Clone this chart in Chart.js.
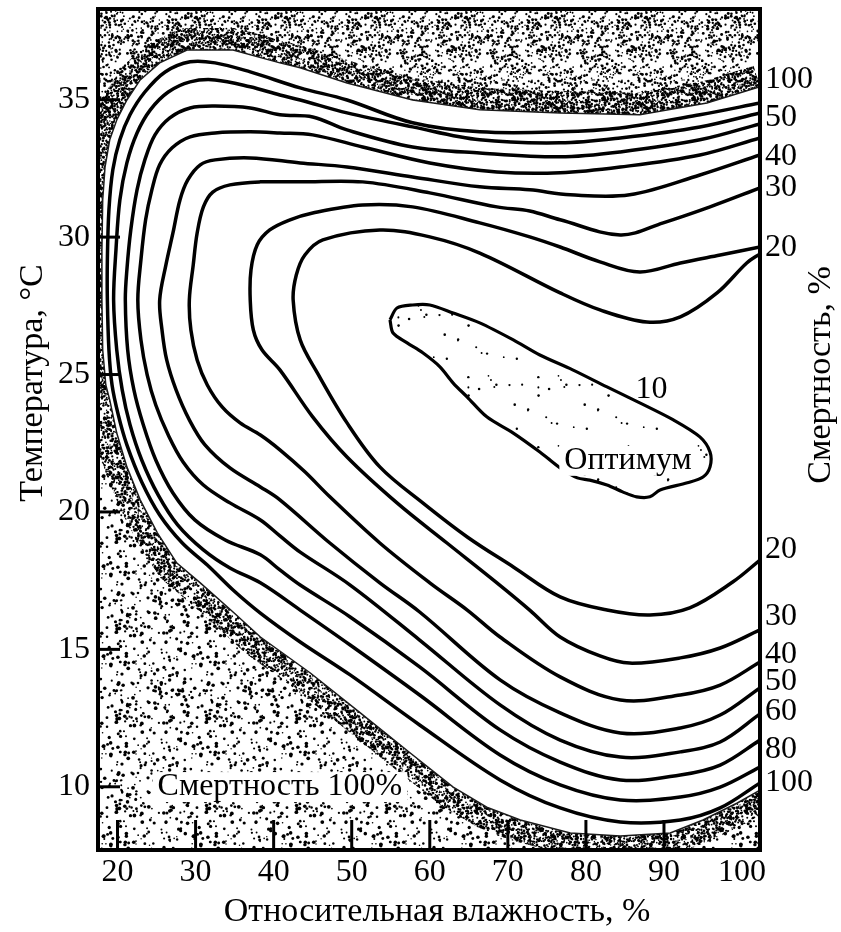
<!DOCTYPE html>
<html>
<head>
<meta charset="utf-8">
<script src="https://cdn.jsdelivr.net/npm/chart.js@4.4.1/dist/chart.umd.min.js"></script>
<style>
html,body{margin:0;padding:0;background:#fff;}
#wrap{width:841px;height:932px;position:relative;}
canvas{display:block;}
</style>
</head>
<body>
<div id="wrap"><canvas id="c" width="841" height="932" style="width:841px;height:932px"></canvas></div>
<script>
// ---------- axes ----------
const humidityMin = 17.5, humidityMax = 102.3;
const temperatureMin = 7.7, temperatureMax = 38.3;
const humidityTicks = [20, 30, 40, 50, 60, 70, 80, 90, 100];
const temperatureTicks = [10, 15, 20, 25, 30, 35];
// right-hand mortality labels (%), and the temperature at which each one sits
const mortalityLabels = ['100', '50', '40', '30', '20', '20', '30', '40', '50', '60', '80', '100'];
const mortalityLabelTemps = [35.72, 34.34, 32.92, 31.79, 29.61, 18.62, 16.18, 14.80, 13.81, 12.72, 11.34, 10.14];

// ---------- edge of the 100 % mortality zone ----------
const lethalEdgeHum = [102.3,95.5,86.9,76.7,66.4,57.8,49.4,43.4,40.8,34.8,28.9,25.4,22.9,21.2,19.9,19.0,18.4,18.1,18.0,18.0,18.1,18.5,19.0,19.9,21.2,22.9,25.1,27.6,30.6,34.8,38.3,44.7,51.1,57.5,63.0,67.3,71.6,78.0,84.4,90.8,95.0,99.4,102.3];
const lethalEdgeTemp = [35.47,34.88,34.45,34.52,34.63,34.99,35.61,36.16,36.34,36.81,36.81,36.34,35.72,34.99,34.26,33.54,32.55,31.35,29.53,27.71,25.90,24.62,24.08,22.87,21.64,20.44,19.24,18.14,17.42,16.36,15.45,14.14,12.69,11.23,9.99,9.26,8.79,8.32,8.21,8.32,8.79,9.41,9.88];

// ---------- mortality isolines, outermost (1) to innermost (8) ----------
const line1Hum = [102.3,94.6,84.4,76.7,66.4,57.8,49.4,43.4,37.0,32.5,29.3,26.1,23.5,21.6,20.3,19.4,18.9,18.7,18.7,18.9,19.3,20.1,21.2,23.1,25.4,28.3,31.5,34.8,38.3,43.4,49.8,58.7,69.0,76.7,84.4,92.1,97.2,102.3];
const line1Temp = [34.88,34.45,33.97,33.83,33.83,34.16,34.99,35.43,36.01,36.34,36.38,36.01,35.28,34.45,33.54,32.45,30.99,29.17,27.71,25.90,24.62,23.53,22.44,21.09,19.89,18.87,18.07,17.16,16.32,15.27,14.07,12.25,10.25,9.23,8.72,8.79,9.23,10.14];

const line2Hum = [102.3,94.6,84.4,76.7,66.4,57.8,49.4,43.4,40.8,37.0,32.5,29.3,26.5,24.2,22.5,21.2,20.3,19.8,19.5,19.9,20.6,21.6,23.1,25.2,27.7,31.0,34.4,38.3,43.4,49.8,58.7,69.0,76.7,84.4,92.1,97.2,102.3];
const line2Temp = [34.52,34.01,33.61,33.43,33.54,34.01,34.52,34.99,35.17,35.47,35.72,35.65,35.28,34.63,33.79,32.70,31.35,29.53,27.71,25.90,24.44,23.17,21.89,20.62,19.53,18.62,17.96,17.42,16.43,15.16,13.34,11.16,10.07,9.52,9.63,9.99,10.72];

const line3Hum = [102.3,94.6,84.4,76.7,66.4,57.8,49.4,45.0,40.8,37.0,32.5,29.3,26.7,24.8,23.5,22.5,21.7,21.2,21.0,21.3,22.1,23.3,24.9,27.1,29.9,33.8,38.3,40.8,43.4,49.8,58.7,69.0,76.7,84.4,92.1,97.2,102.3];
const line3Temp = [34.12,33.54,33.10,32.92,33.06,33.28,33.90,34.37,34.45,34.70,34.77,34.70,34.34,33.72,32.81,31.72,30.26,28.81,27.71,25.90,24.44,23.17,21.89,20.69,19.71,18.98,18.44,17.89,17.34,16.18,14.36,12.07,10.90,10.25,10.43,10.79,11.70];

const line4Hum = [102.3,94.6,84.4,76.7,68.6,60.0,51.4,45.0,40.8,37.0,32.5,29.3,27.0,25.4,24.4,23.6,23.0,22.6,23.0,23.8,24.9,26.5,28.4,31.0,34.4,38.3,40.8,43.4,49.8,58.7,69.0,76.7,84.4,92.1,97.2,102.3];
const line4Temp = [33.61,32.99,32.55,32.34,32.37,32.70,33.28,33.72,33.79,33.83,33.79,33.65,33.25,32.63,31.72,30.63,29.17,27.71,26.26,24.99,23.89,22.80,21.82,20.98,20.33,19.71,19.13,18.54,17.34,15.34,12.98,11.70,11.08,11.27,11.63,12.65];

const line5Hum = [102.3,94.6,85.6,78.0,72.8,66.4,57.8,49.4,43.4,37.0,32.5,30.6,29.0,28.0,27.1,26.2,25.4,25.7,26.3,27.5,29.2,31.2,34.4,38.3,40.8,47.2,53.6,58.7,69.0,76.7,84.4,92.1,97.2,102.3];
const line5Temp = [32.99,32.26,31.54,31.54,31.72,31.83,32.19,32.55,32.70,32.88,32.81,32.63,32.08,31.35,30.15,28.99,27.71,26.62,25.53,24.44,23.35,22.44,21.60,20.91,20.44,18.87,17.42,16.36,13.89,12.69,11.96,12.14,12.61,13.60];

const line6Hum = [102.3,95.9,89.9,84.4,76.7,72.8,68.6,60.0,51.4,43.4,38.3,34.4,32.2,31.0,30.2,29.7,29.2,29.4,30.2,31.5,33.4,35.7,38.3,40.8,44.0,47.2,53.6,60.0,64.8,69.0,76.7,84.4,92.1,97.2,102.3];
const line6Temp = [31.79,31.10,30.52,30.08,30.63,30.95,31.10,31.61,32.01,32.01,32.01,31.90,31.64,31.10,30.15,28.99,27.71,26.62,25.53,24.62,23.82,23.24,22.80,22.26,21.46,20.55,18.87,17.42,16.43,15.45,14.00,13.16,13.34,13.70,14.54];

const line7Hum = [102.3,97.2,92.1,86.9,81.8,76.7,72.8,66.4,57.8,51.4,45.0,42.1,39.5,37.9,37.1,37.0,37.4,38.5,40.8,45.0,49.4,55.8,62.2,68.6,72.8,76.7,81.8,85.6,92.1,97.2,102.3];
const line7Temp = [29.64,29.35,29.06,28.73,29.10,29.64,30.01,30.52,31.10,31.17,30.88,30.63,30.26,29.72,28.81,27.71,26.62,25.90,25.17,23.46,22.00,20.33,18.87,17.42,16.43,15.45,14.76,14.50,14.69,15.05,15.71];

const line8Hum = [102.3,100.6,96.8,92.1,87.8,81.8,76.7,66.4,60.0,53.6,46.3,44.0,42.9,42.5,43.4,45.6,49.4,53.6,59.1,64.8,70.7,76.7,82.7,88.2,93.3,98.8,102.3];
const line8Temp = [29.39,29.06,27.97,27.10,26.91,27.35,27.97,29.42,30.01,30.26,29.90,29.35,28.62,27.71,26.26,25.06,23.24,21.64,20.33,19.09,18.00,16.91,16.43,16.25,16.51,17.45,18.25];

// ---------- 10 % isoline (optimum zone, closed) ----------
const optimumHum = [54.9,55.8,57.8,60.0,63.0,66.4,70.7,74.1,78.3,82.7,86.9,91.2,94.6,95.9,95.9,95.0,93.0,89.5,88.2,86.5,84.7,82.7,80.5,78.9,76.7,74.1,70.7,67.3,64.8,63.0,61.3,59.1,57.1,55.3,54.9];
const optimumTemp = [26.99,27.42,27.53,27.53,27.24,26.88,26.26,25.71,25.17,24.55,23.97,23.35,22.73,22.18,21.64,21.27,21.06,20.80,20.55,20.55,20.73,20.98,21.16,21.24,21.60,22.18,22.87,23.46,24.18,24.69,25.28,25.79,26.15,26.51,26.99];

// ---------- text notes inside the plot ----------
const annotationTexts = ['10', 'Оптимум', 'Смертность 100%'];
const annotationHum = [88.4, 85.4, 40.8];
const annotationTemp = [24.44, 21.86, 9.99];
const annotationBoxed = [false, true, true];

// ---------- helpers ----------
const toPoints = (hs, ts) => hs.map((h, i) => ({x: h, y: ts[i]}));
const splitIndex = lethalEdgeTemp.indexOf(24.62);

const topZone = toPoints(lethalEdgeHum.slice(0, splitIndex + 1), lethalEdgeTemp.slice(0, splitIndex + 1))
  .concat([{x: humidityMin, y: lethalEdgeTemp[splitIndex]}, {x: humidityMin, y: temperatureMax}, {x: humidityMax, y: temperatureMax}]);
const bottomZone = [{x: humidityMin, y: lethalEdgeTemp[splitIndex]}]
  .concat(toPoints(lethalEdgeHum.slice(splitIndex), lethalEdgeTemp.slice(splitIndex)))
  .concat([{x: humidityMax, y: temperatureMin}, {x: humidityMin, y: temperatureMin}]);

const canvas = document.getElementById('c');
const ctx = canvas.getContext('2d');

// stipple texture (fixed pseudo-random sequence, purely decorative)
function stipple(size, count, rMin, rMax, seed) {
  const t = document.createElement('canvas');
  t.width = size; t.height = size;
  const g = t.getContext('2d');
  g.fillStyle = '#000';
  let s = seed >>> 0;
  const next = () => { s = (Math.imul(s, 1664525) + 1013904223) >>> 0; return s / 4294967296; };
  for (let i = 0; i < count; i++) {
    const px = next() * size, py = next() * size, r = rMin + next() * (rMax - rMin);
    for (const dx of [-size, 0, size]) for (const dy of [-size, 0, size]) {
      g.beginPath(); g.arc(px + dx, py + dy, r, 0, Math.PI * 2); g.fill();
    }
  }
  return ctx.createPattern(t, 'repeat');
}
const topPattern = stipple(90, 620, 0.7, 1.5, 12345);
const bottomPattern = stipple(90, 230, 0.7, 1.9, 98765);
const densePattern = stipple(90, 1300, 0.7, 1.4, 31337);
const optimumPattern = stipple(70, 18, 0.8, 1.3, 4242);

const serif = '"Liberation Serif", "DejaVu Serif", serif';

const contourStyle = (pts) => ({
  data: pts, showLine: true, fill: false, borderColor: '#000', borderWidth: 3.5,
  pointRadius: 0, tension: 0.35, order: 1
});

const datasets = [
  {data: topZone, showLine: true, fill: 'shape', backgroundColor: topPattern, borderWidth: 0, borderColor: 'rgba(0,0,0,0)', pointRadius: 0, tension: 0, order: 5},
  {data: bottomZone, showLine: true, fill: 'shape', backgroundColor: bottomPattern, borderWidth: 0, borderColor: 'rgba(0,0,0,0)', pointRadius: 0, tension: 0, order: 5},
  {data: toPoints(lethalEdgeHum, lethalEdgeTemp), showLine: true, fill: false, borderColor: '#1a1a1a', borderWidth: 1.5, pointRadius: 0, tension: 0, order: 2},
  {data: toPoints(optimumHum, optimumTemp), showLine: true, fill: 'shape', backgroundColor: optimumPattern, borderColor: '#000', borderWidth: 3.2, pointRadius: 0, tension: 0.3, order: 3},
  contourStyle(toPoints(line1Hum, line1Temp)),
  contourStyle(toPoints(line2Hum, line2Temp)),
  contourStyle(toPoints(line3Hum, line3Temp)),
  contourStyle(toPoints(line4Hum, line4Temp)),
  contourStyle(toPoints(line5Hum, line5Temp)),
  contourStyle(toPoints(line6Hum, line6Temp)),
  contourStyle(toPoints(line7Hum, line7Temp)),
  contourStyle(toPoints(line8Hum, line8Temp))
];

// darker stipple band along the inside of the lethal-zone edge
const edgeBand = {
  id: 'edgeBand',
  afterDatasetDraw(chart, args) {
    if (args.index !== 0 && args.index !== 1) return;
    const zone = chart.getDatasetMeta(args.index).dataset;
    const edge = chart.getDatasetMeta(2).dataset;
    if (!zone || !edge) return;
    const c = chart.ctx;
    c.save();
    c.beginPath(); zone.path(c); c.closePath(); c.clip();
    c.beginPath(); edge.path(c);
    c.strokeStyle = densePattern; c.lineWidth = 44; c.lineJoin = 'round';
    c.stroke();
    c.restore();
  }
};

const decor = {
  id: 'decor',
  afterDraw(chart) {
    const {ctx: c, chartArea: a, scales} = chart;
    const xs = scales.x, ys = scales.y;
    c.save();
    c.strokeStyle = '#000';
    c.lineWidth = 3;
    temperatureTicks.forEach(v => {
      const p = ys.getPixelForValue(v);
      c.beginPath(); c.moveTo(a.left, p); c.lineTo(a.left + 22, p); c.stroke();
    });
    humidityTicks.forEach(v => {
      if (v >= 100) return;
      const p = xs.getPixelForValue(v);
      c.beginPath(); c.moveTo(p, a.bottom); c.lineTo(p, a.bottom - 30); c.stroke();
    });
    c.lineWidth = 4;
    c.strokeRect(a.left, a.top, a.right - a.left, a.bottom - a.top);

    c.font = '32px ' + serif;
    c.textAlign = 'center';
    c.textBaseline = 'middle';
    annotationTexts.forEach((t, i) => {
      const px = xs.getPixelForValue(annotationHum[i]);
      const py = ys.getPixelForValue(annotationTemp[i]);
      if (annotationBoxed[i]) {
        const w = c.measureText(t).width;
        c.fillStyle = '#fff';
        c.fillRect(px - w / 2 - 5, py - 15, w + 10, 30);
      }
      c.fillStyle = '#000';
      c.fillText(t, px, py);
    });

    c.font = '34px ' + serif;
    c.fillStyle = '#000';
    c.fillText('Относительная влажность, %', (a.left + a.right) / 2 + 8, 912);
    c.save(); c.translate(33, 383); c.rotate(-Math.PI / 2);
    c.fillText('Температура, °C', 0, 0); c.restore();
    c.save(); c.translate(821, 375); c.rotate(-Math.PI / 2);
    c.fillText('Смертность, %', 0, 0); c.restore();
    c.restore();
  }
};

const tickFont = {family: serif, size: 32};

new Chart(ctx, {
  type: 'scatter',
  data: {datasets},
  options: {
    responsive: false,
    animation: false,
    events: [],
    layout: {padding: {top: 9, left: 0, right: 0, bottom: 0}},
    plugins: {legend: {display: false}, tooltip: {enabled: false}},
    scales: {
      x: {
        type: 'linear', min: humidityMin, max: humidityMax,
        grid: {display: false, drawTicks: false}, border: {display: false},
        afterBuildTicks: s => { s.ticks = humidityTicks.map(v => ({value: v})); },
        afterFit: s => { s.height = 82; s.paddingLeft = 0; s.paddingRight = 0; },
        ticks: {font: tickFont, color: '#000', padding: 3, autoSkip: false, maxRotation: 0, callback: v => String(v)}
      },
      y: {
        type: 'linear', position: 'left', min: temperatureMin, max: temperatureMax,
        grid: {display: false, drawTicks: false}, border: {display: false},
        afterBuildTicks: s => { s.ticks = temperatureTicks.map(v => ({value: v})); },
        afterFit: s => { s.width = 98; s.paddingTop = 0; s.paddingBottom = 0; },
        ticks: {font: tickFont, color: '#000', padding: 8, autoSkip: false, callback: v => String(v)}
      },
      yRight: {
        type: 'linear', position: 'right', min: temperatureMin, max: temperatureMax,
        grid: {display: false, drawTicks: false}, border: {display: false},
        afterBuildTicks: s => { s.ticks = mortalityLabelTemps.map(v => ({value: v})); },
        afterFit: s => { s.width = 81; s.paddingTop = 0; s.paddingBottom = 0; },
        ticks: {font: tickFont, color: '#000', padding: 5, autoSkip: false, callback: (v, i) => mortalityLabels[i]}
      }
    }
  },
  plugins: [edgeBand, decor]
});
</script>
</body>
</html>
